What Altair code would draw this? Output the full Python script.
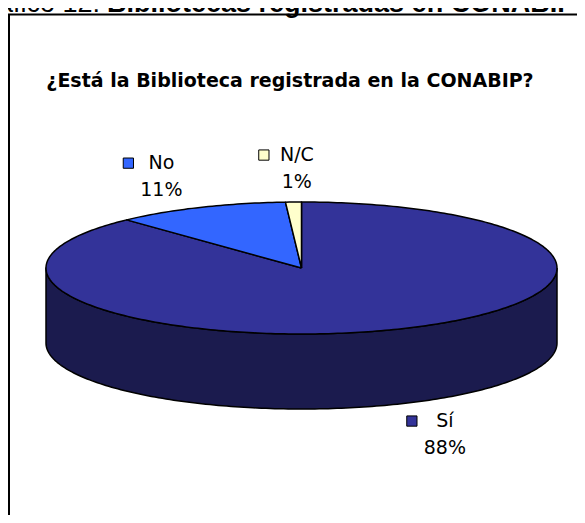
import altair as alt
import numpy as np
import pandas as pd

# ---------------- data ----------------
categories = ["Sí", "No", "N/C"]
percent = [88, 11, 1]
pct_labels = ["88%", "11%", "1%"]
top_colors = ["#333399", "#3366FF", "#FFFFCC"]
side_colors = ["#1B1B4E", "#1B1B4E", "#1B1B4E"]
chart_title = ["¿Está la Biblioteca registrada en la CONABIP?"]
header_regular = ["Gráfico 12:"]
header_bold = ["Bibliotecas registradas en CONABIP"]

# ---------------- layout (style constants) ----------------
W, H = 569, 507
CX, CY = 293.5, 260.0      # pie centre in pixels
RX, RY = 255.5, 66.0       # top ellipse radii in pixels
DEPTH = 75.0               # 3D thickness in pixels
TILT = RY / RX
DEPTH_U = DEPTH / RX
x_domain = [-CX / RX, (W - CX) / RX]
y_domain = [(H - CY) / RX, -CY / RX]  # downwards positive

side_keys = [c + " (lado)" for c in categories]
fill_scale = alt.Scale(domain=categories + side_keys, range=top_colors + side_colors)

# ---------------- geometry derived from the values ----------------
cum = np.concatenate([[0], np.cumsum(percent)])
start_deg = 360.0 * cum[:-1] / cum[-1]
end_deg = 360.0 * cum[1:] / cum[-1]


def arc(a0, a1):
    n = max(2, int(np.ceil(abs(a1 - a0))) + 1)
    t = np.radians(np.linspace(a0, a1, n))
    return np.sin(t), -np.cos(t) * TILT


top_rows, side_rows = [], []
for i, cat in enumerate(categories):
    ax, ay = arc(start_deg[i], end_deg[i])
    px = np.concatenate([[0.0], ax, [0.0]])
    py = np.concatenate([[0.0], ay, [0.0]])
    for k, (x, y) in enumerate(zip(px, py)):
        top_rows.append(dict(key=cat, k=k, x=x, y=y))
    lo, hi = max(start_deg[i], 90.0), min(end_deg[i], 270.0)
    if hi > lo:
        ux, uy = arc(lo, hi)
        px = np.concatenate([ux, ux[::-1], ux[:1]])
        py = np.concatenate([uy, uy[::-1] + DEPTH_U, uy[:1]])
        for k, (x, y) in enumerate(zip(px, py)):
            side_rows.append(dict(key=side_keys[i], k=k, x=x, y=y))

top_df = pd.DataFrame(top_rows)
side_df = pd.DataFrame(side_rows)

mid = np.radians((start_deg + end_deg) / 2.0)
lab_df = pd.DataFrame(dict(
    key=categories,
    pct=pct_labels,
    x=1.45 * np.sin(mid),
    y=-1.5 * np.cos(mid) * TILT + np.where(np.cos(mid) < 0, DEPTH_U, 0.0),
))

xenc = alt.X("x:Q", scale=alt.Scale(domain=x_domain, nice=False, zero=False), axis=None)
yenc = alt.Y("y:Q", scale=alt.Scale(domain=y_domain, nice=False, zero=False), axis=None)
fenc = alt.Fill("key:N", scale=fill_scale, legend=None)

side = alt.Chart(side_df).mark_line(stroke="black", strokeWidth=1.5, strokeJoin="round").encode(
    x=xenc, y=yenc, order="k:Q", detail="key:N", fill=fenc,
)

top = alt.Chart(top_df).mark_line(stroke="black", strokeWidth=1.5, strokeJoin="round").encode(
    x=xenc, y=yenc, order="k:Q", detail="key:N", fill=fenc,
)

LABEL_FONT = "DejaVu Sans"
squares = alt.Chart(lab_df).mark_square(
    size=105, stroke="black", strokeWidth=1, opacity=1, filled=True, xOffset=-26, yOffset=-14
).encode(x=xenc, y=yenc, fill=fenc)
names = alt.Chart(lab_df).mark_text(
    font=LABEL_FONT, fontSize=19, dx=7, dy=-14, align="center", baseline="middle", color="black"
).encode(x=xenc, y=yenc, text="key:N")
pcts = alt.Chart(lab_df).mark_text(
    font=LABEL_FONT, fontSize=19, dx=7, dy=13, align="center", baseline="middle", color="black"
).encode(x=xenc, y=yenc, text="pct:N")

title = alt.Chart(pd.DataFrame({"t": chart_title})).mark_text(
    font="DejaVu Sans", fontWeight="bold", fontSize=19, align="center", baseline="middle", color="black"
).encode(x=alt.value(282), y=alt.value(73), text="t:N")

head1 = alt.Chart(pd.DataFrame({"t": header_regular})).mark_text(
    font="Liberation Sans", fontSize=27, align="right", baseline="alphabetic", color="black"
).encode(x=alt.value(92), y=alt.value(3.5), text="t:N")
head2 = alt.Chart(pd.DataFrame({"t": header_bold})).mark_text(
    font="Liberation Sans", fontWeight="bold", fontSize=27, align="left", baseline="alphabetic", color="black"
).encode(x=alt.value(99), y=alt.value(3.5), text="t:N")

one = pd.DataFrame({"a": [0]})
border_left = alt.Chart(one).mark_rule(color="black", strokeWidth=2).encode(
    x=alt.value(1), y=alt.value(6.5), y2=alt.value(H))
border_top = alt.Chart(one).mark_rule(color="black", strokeWidth=2).encode(
    x=alt.value(0), x2=alt.value(W), y=alt.value(6.5))

chart = alt.layer(
    border_left, border_top, head1, head2, title, side, top, squares, names, pcts
).properties(
    width=W, height=H, padding=0, autosize="none", background="white"
).configure_view(stroke=None)

chart.save("out.html", embed_options={"renderer": "svg", "actions": False})
